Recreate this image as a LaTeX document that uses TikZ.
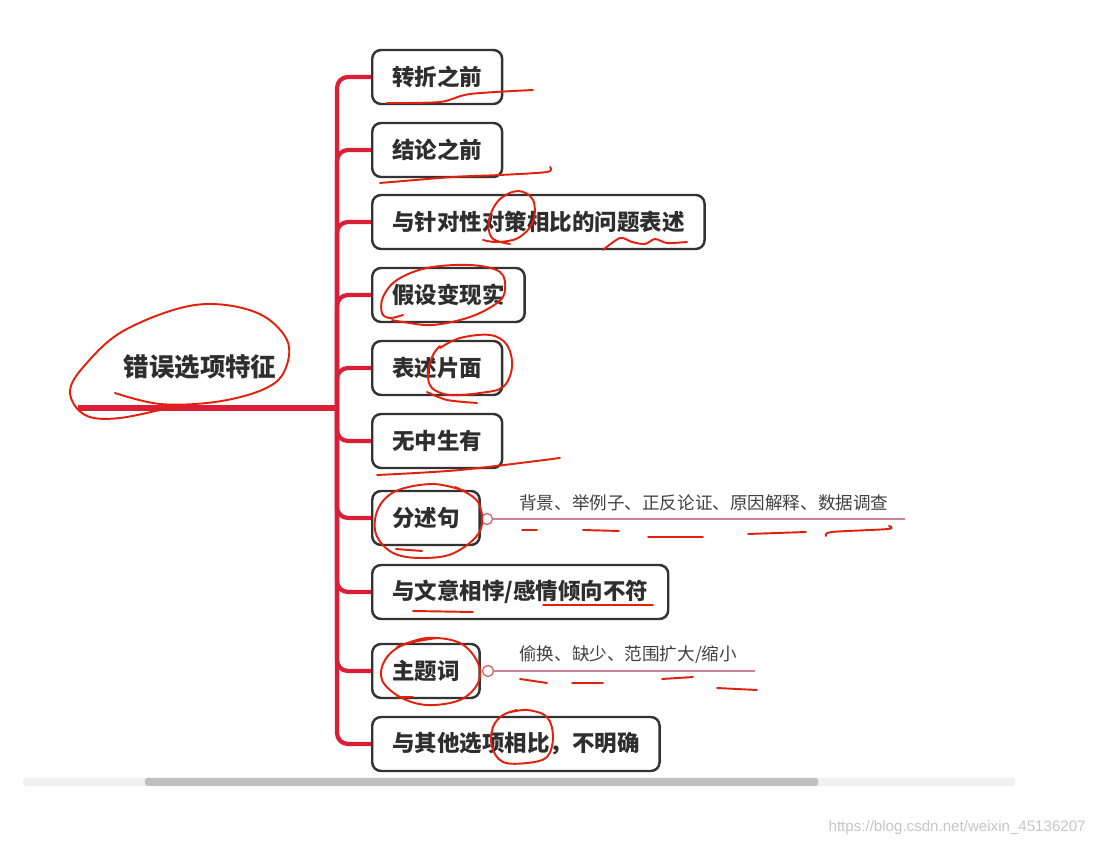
\documentclass[tikz,border=0pt]{standalone}
\usepackage{fontspec}
\setmainfont{Noto Sans CJK SC}
\newfontfamily\urlfont{Liberation Sans}
\definecolor{trunkred}{HTML}{D91E36}
\definecolor{inkred}{HTML}{E2200C}
\definecolor{boxline}{HTML}{333333}
\definecolor{noteline}{HTML}{C98494}
\begin{document}
\begin{tikzpicture}[x=0.02cm, y=-0.02cm,
  topic/.style={rectangle, draw=boxline, line width=1.4pt, fill=white, rounded corners=5pt, anchor=west,
    minimum height=1.08cm, inner xsep=0.4cm, font=\fontsize{12.8pt}{15pt}\selectfont\bfseries, text=black!82},
  root/.style={font=\fontsize{14.5pt}{17pt}\selectfont\bfseries, text=black!82, inner sep=0pt},
  branch/.style={draw=trunkred, line width=2.4pt, rounded corners=0.22cm},
  rootline/.style={draw=trunkred, line width=2.9pt},
  knob/.style={circle, draw=noteline!80!red, line width=0.8pt, fill=white, minimum size=0.22cm, inner sep=0pt},
  note/.style={anchor=west, font=\fontsize{10pt}{12pt}\selectfont, text=black!75, inner sep=0pt},
  link/.style={draw=noteline, line width=0.9pt},
  ink/.style={draw=inkred, line width=1.1pt, line cap=round, line join=round}
]
  \useasboundingbox (0,0) rectangle (1093,847);

  % root
  \node[root] (main) at (200,367) {错误选项特征};
  \coordinate (rootstart) at (78,408);
  \coordinate (hub) at (337,408);
  \draw[rootline] (rootstart) -- (hub);

  % topics
  \node[topic] (t1) at (371,77) {转折之前};
  \node[topic] (t2) at (371,150) {结论之前};
  \node[topic] (t3) at (371,222) {与针对性对策相比的问题表述};
  \node[topic] (t4) at (371,295) {假设变现实};
  \node[topic] (t5) at (371,368) {表述片面};
  \node[topic] (t6) at (371,441) {无中生有};
  \node[topic] (t7) at (371,518) {分述句};
  \node[topic] (t8) at (371,592) {与文意相悖/感情倾向不符};
  \node[topic] (t9) at (371,671) {主题词};
  \node[topic] (t10) at (371,744) {与其他选项相比，不明确};

  % hub -> topics
  \foreach \t in {t1,t2,t3,t4,t5,t6,t7,t8,t9,t10}
    \draw[branch] (hub) |- (\t.west);

  % notes
  \node[knob] (k7) at (487,519) {};
  \coordinate (e7) at (905,519);
  \draw[link] (k7) -- (e7);
  \node[note] (n7) at (519,503) {背景、举例子、正反论证、原因解释、数据调查};
  \node[knob] (k9) at (488,671) {};
  \coordinate (e9) at (755,671);
  \draw[link] (k9) -- (e9);
  \node[note] (n9) at (519,655) {偷换、缺少、范围扩大/缩小};

  % scroll bar and watermark
  \fill[gray!12, rounded corners=1pt] (23,778) rectangle (1015,786);
  \fill[gray!50, rounded corners=1pt] (145,778) rectangle (818,786);
  \node[anchor=east, font=\urlfont\fontsize{8.6pt}{10pt}\selectfont, text=gray!45, inner sep=0pt] (mark) at (1086,828) {https://blog.csdn.net/weixin\_45136207};

  % red ink
  \draw[ink] plot[smooth, tension=0.6] coordinates {(180,405) (120,418) (85,415) (70,392) (85,365) (125,330) (195,305) (255,312) (287,340) (284,372) (262,390) (215,402) (160,404) (115,393)};
  \draw[ink] plot[smooth] coordinates {(387,103) (440,102) (470,94) (533,90)};
  \draw[ink] plot[smooth] coordinates {(380,183) (453,177) (500,175) (547,172) (550,167)};
  \draw[ink] plot[smooth, tension=0.6] coordinates {(483,240) (497,242) (518,238) (533,222) (533,200) (518,191) (499,200) (489,220) (492,238) (510,244)};
  \draw[ink] plot[smooth] coordinates {(603,250) (620,238) (632,242) (645,244) (655,239) (667,243) (687,242)};
  \draw[ink] plot[smooth, tension=0.6] coordinates {(403,315) (390,318) (382,313) (383,297) (397,280) (427,268) (470,265) (500,272) (505,290) (497,303) (470,317) (433,325) (403,322) (392,320)};
  \draw[ink] plot[smooth, tension=0.6] coordinates {(440,348) (460,338) (490,335) (507,345) (512,367) (503,387) (480,393) (450,395) (432,388) (428,373) (433,355) (440,346)};
  \draw[ink] plot[smooth] coordinates {(427,392) (447,400) (477,403)};
  \draw[ink] plot[smooth] coordinates {(377,475) (460,470) (560,458)};
  \draw[ink] plot[smooth, tension=0.6] coordinates {(465,491) (433,484) (396,491) (378,509) (376,534) (393,553) (422,558) (454,553) (480,531) (478,502) (455,487)};
  \draw[ink] (396,549) -- (422,551);
  \draw[ink] (522,530) -- (537,530);
  \draw[ink] (583,530) -- (619,531);
  \draw[ink] (648,537) -- (703,537);
  \draw[ink] (748,534) -- (806,532);
  \draw[ink] plot[smooth] coordinates {(826,536) (832,532) (888,529) (889,526)};
  \draw[ink] (413,611) -- (473,612);
  \draw[ink] (543,605) -- (653,605);
  \draw[ink] plot[smooth, tension=0.6] coordinates {(397,647) (427,638) (460,643) (478,663) (478,683) (460,700) (427,705) (400,697) (382,680) (385,660) (403,645) (437,638)};
  \draw[ink] (397,697) -- (413,697);
  \draw[ink] (520,679) -- (547,683);
  \draw[ink] (572,683) -- (603,683);
  \draw[ink] (662,679) -- (693,677);
  \draw[ink] (717,688) -- (757,690);
  \draw[ink] plot[smooth, tension=0.6] coordinates {(507,713) (527,710) (547,717) (553,737) (547,757) (527,763) (503,762) (492,747) (493,727) (503,715) (517,710)};
\end{tikzpicture}
\end{document}
